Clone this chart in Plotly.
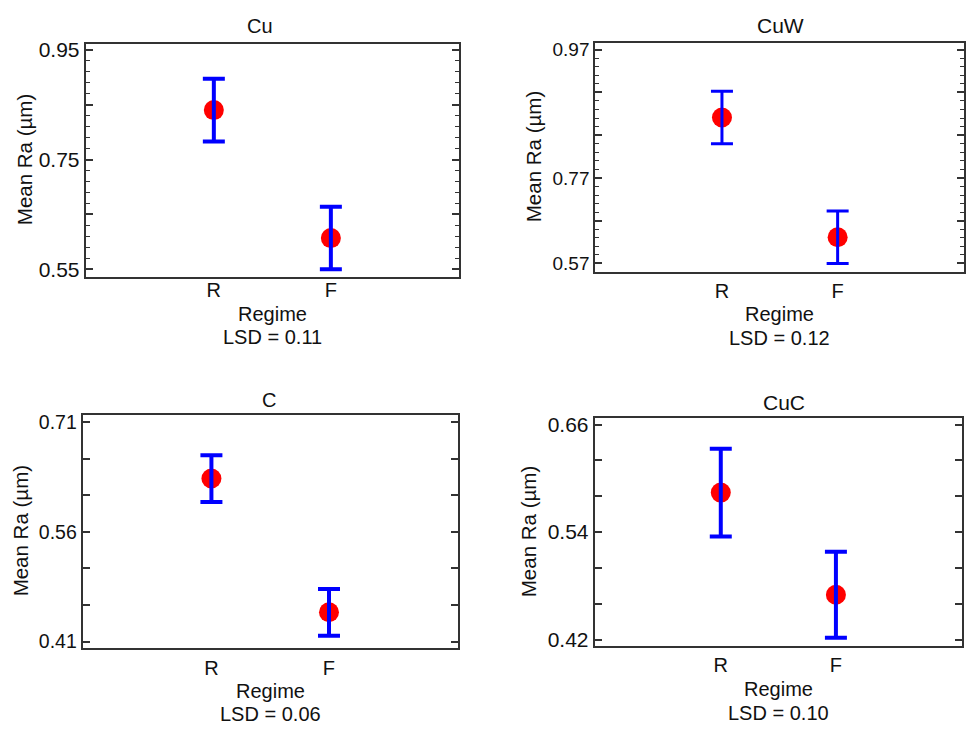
import plotly.graph_objects as go

# ---------------- data ----------------
regimes = ["R", "F"]
regime_pos = [1, 2]

panel_names = ["Cu", "CuW", "C", "CuC"]
cu_mean = [0.840, 0.607]
cu_err = [0.057, 0.057]
cuw_mean = [0.843, 0.619]
cuw_err = [0.049, 0.049]
c_mean = [0.633, 0.450]
c_err = [0.032, 0.032]
cuc_mean = [0.584, 0.470]
cuc_err = [0.049, 0.048]
lsd_text = ["0.11", "0.12", "0.06", "0.10"]

cu_ticks = [0.95, 0.85, 0.75, 0.65, 0.55]
cu_ticklabels = ["0.95", "", "0.75", "", "0.55"]
cuw_ticks = [0.97, 0.89, 0.81, 0.73, 0.65, 0.57]
cuw_ticklabels = ["0.97", "", "", "0.77", "", "0.57"]
c_ticks = [0.71, 0.66, 0.61, 0.56, 0.51, 0.46, 0.41]
c_ticklabels = ["0.71", "", "", "0.56", "", "", "0.41"]
cuc_ticks = [0.66, 0.62, 0.58, 0.54, 0.50, 0.46, 0.42]
cuc_ticklabels = ["0.66", "", "", "0.54", "", "", "0.42"]

means = [cu_mean, cuw_mean, c_mean, cuc_mean]
errs = [cu_err, cuw_err, c_err, cuc_err]
ticks = [cu_ticks, cuw_ticks, c_ticks, cuc_ticks]
ticklabels = [cu_ticklabels, cuw_ticklabels, c_ticklabels, cuc_ticklabels]

# ---------------- layout / style ----------------
W, H = 971, 732
FONT = "Liberation Sans, Arial, sans-serif"
FRAME = "#333333"
TXT = "#111111"

# pixel boxes: (left, right, top, bottom)
boxes = [(85.7, 459.0, 38.3, 274.3),
         (595.3, 964.3, 37.3, 269.3),
         (82.7, 457.7, 414.3, 651.0),
         (594.7, 962.0, 417.7, 649.3)]
yranges = [(0.5369, 0.9608), (0.5547, 0.9829), (0.4010, 0.7204), (0.4123, 0.6673)]
minor_dt = [0.02, 0.016, None, None]
err_thick = [4, 3, 4, 4]
ytick_size = [21, 19, 19.5, 21]
xlabel_standoff = [-6, 0, 1, 0]
title_xy = [(260, 20), (780, 20), (269, 399), (784, 402)]
title_size = [20, 21, 20, 21]
ytitle_x = [24, 533, 20, 528]
regime_y = [312, 312, 694, 692]
lsd_y = [336, 337, 718, 717]


def px(x):
    return x / W


def py(y):
    return 1 - y / H


fig = go.Figure()
annotations = []
for i in range(4):
    n = "" if i == 0 else str(i + 1)
    xa, ya = "x" + n, "y" + n
    l, r, t, b = boxes[i]
    fig.add_trace(go.Scatter(
        x=regime_pos, y=means[i], mode="markers", xaxis=xa, yaxis=ya,
        marker=dict(color="#ff0000", size=20, line=dict(width=0)),
        showlegend=False, hoverinfo="skip"))
    fig.add_trace(go.Scatter(
        x=regime_pos, y=means[i], mode="markers", xaxis=xa, yaxis=ya,
        marker=dict(color="rgba(0,0,0,0)", size=1),
        error_y=dict(type="data", array=errs[i], color="#0000ff",
                     thickness=err_thick[i], width=11),
        showlegend=False, hoverinfo="skip"))

    yax = dict(
        domain=[py(b), py(t)], anchor=xa, range=list(yranges[i]),
        showline=True, linecolor=FRAME, linewidth=2, mirror="allticks",
        ticks="inside", ticklen=7, tickwidth=1.5, tickcolor=FRAME,
        tickmode="array", tickvals=ticks[i], ticktext=ticklabels[i],
        tickfont=dict(family=FONT, size=ytick_size[i], color=TXT),
        showgrid=False, zeroline=False, fixedrange=True)
    if minor_dt[i]:
        yax["minor"] = dict(ticks="inside", ticklen=4, tickwidth=1.2,
                            tickcolor=FRAME, dtick=minor_dt[i],
                            tick0=ticks[i][-1], showgrid=False)
    xax = dict(
        domain=[px(l), px(r)], anchor=ya, range=[-0.095, 3.095],
        showline=True, linecolor=FRAME, linewidth=2, mirror=True,
        ticks="", tickmode="array", tickvals=regime_pos, ticktext=regimes,
        ticklabelstandoff=xlabel_standoff[i],
        tickfont=dict(family=FONT, size=20, color=TXT),
        showgrid=False, zeroline=False, fixedrange=True)
    fig.update_layout(**{"xaxis" + n: xax, "yaxis" + n: yax})

    cx = (l + r) / 2
    annotations.append(dict(text=panel_names[i], x=px(title_xy[i][0]), y=py(title_xy[i][1]),
                            xref="paper", yref="paper", showarrow=False,
                            xanchor="center", yanchor="middle",
                            font=dict(family=FONT, size=title_size[i], color=TXT)))
    annotations.append(dict(text="Mean Ra (µm)", x=px(ytitle_x[i]), y=py((t + b) / 2),
                            xref="paper", yref="paper", showarrow=False, textangle=-90,
                            xanchor="center", yanchor="middle",
                            font=dict(family=FONT, size=20.5, color=TXT)))
    annotations.append(dict(text="Regime", x=px(cx), y=py(regime_y[i]),
                            xref="paper", yref="paper", showarrow=False,
                            xanchor="center", yanchor="middle",
                            font=dict(family=FONT, size=20, color=TXT)))
    annotations.append(dict(text="LSD = " + lsd_text[i], x=px(cx), y=py(lsd_y[i]),
                            xref="paper", yref="paper", showarrow=False,
                            xanchor="center", yanchor="middle",
                            font=dict(family=FONT, size=20, color=TXT)))

fig.update_layout(width=W, height=H, margin=dict(l=0, r=0, t=0, b=0),
                  paper_bgcolor="white", plot_bgcolor="white",
                  annotations=annotations, showlegend=False)

fig.write_html("out.html")
